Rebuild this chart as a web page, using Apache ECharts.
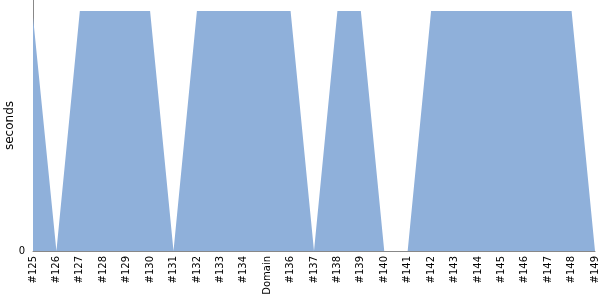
<!DOCTYPE html>
<html><head><meta charset="utf-8">
<script src="https://cdn.jsdelivr.net/npm/echarts@6/dist/echarts.min.js"></script>
<style>html,body{margin:0;padding:0;background:#fff}#c{width:600px;height:300px}</style>
</head><body><div id="c"></div>
<script>
const categories = ['#125','#126','#127','#128','#129','#130','#131','#132','#133','#134','Domain','#136','#137','#138','#139','#140','#141','#142','#143','#144','#145','#146','#147','#148','#149'];
const values = [97.5,0,100,100,100,100,0,100,100,100,100,100,0,100,100,0,0,100,100,100,100,100,100,100,0];
const yTicks = [0];
const chart = echarts.init(document.getElementById('c'), null, {renderer:'canvas'});
chart.setOption({
  animation:false,
  grid:{left:33,right:5,top:0,bottom:49,containLabel:false,outerBoundsMode:'none'},
  xAxis:{type:'category',data:categories,boundaryGap:false,
    axisLine:{lineStyle:{color:'#888',width:1}},axisTick:{show:false},
    axisLabel:{rotate:90,interval:0,fontSize:10,color:'#000',fontFamily:'DejaVu Sans',margin:5}},
  yAxis:{type:'value',min:0,max:104.6,interval:104.6,name:'seconds',nameLocation:'middle',nameGap:17,
    nameMoveOverlap:false,
    nameTextStyle:{fontSize:12,color:'#000',fontFamily:'DejaVu Sans'},
    axisLine:{show:true,lineStyle:{color:'#888',width:1}},axisTick:{show:false},splitLine:{show:false},
    axisLabel:{fontSize:10,color:'#000',fontFamily:'DejaVu Sans',margin:8,showMaxLabel:false,
      formatter:v=>yTicks.includes(v)?String(v):''}},
  series:[{type:'line',data:values,symbol:'none',lineStyle:{width:0},
    areaStyle:{color:'#8fb0da',opacity:1}}]
});
</script></body></html>
